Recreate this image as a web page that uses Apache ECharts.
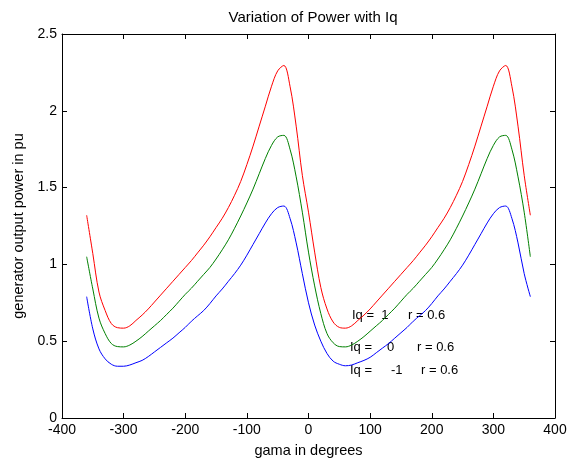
<!DOCTYPE html>
<html>
<head>
<meta charset="utf-8">
<script src="https://cdn.jsdelivr.net/npm/echarts@6/dist/echarts.min.js"></script>
<style>
  html,body{margin:0;padding:0;background:#fff;}
  #chart{width:575px;height:463px;}
</style>
</head>
<body>
<div id="chart"></div>
<script>
// gama in degrees
const gamma = [-360,-350,-340,-330,-320,-310,-300,-290,-280,-270,-260,-250,-240,-230,-220,-210,-200,-190,-180,-170,-160,-150,-140,-130,-120,-110,-100,-90,-80,-70,-60,-50,-40,-30,-20,-10,
  0,10,20,30,40,50,60,70,80,90,100,110,120,130,140,150,160,170,180,190,200,210,220,230,240,250,260,270,280,290,300,310,320,330,340,350,360]

// Iq = 1
const powerIq1 = [1.32,1.07,0.82,0.70,0.615,0.588,0.585,0.60,0.635,0.67,0.71,0.755,0.80,0.845,0.89,0.935,0.98,1.025,1.075,1.125,1.18,1.24,1.30,1.37,1.45,1.54,1.65,1.77,1.90,2.03,2.16,2.26,2.295,2.16,1.90,1.58,
  1.34,1.08,0.85,0.71,0.625,0.59,0.585,0.60,0.635,0.67,0.71,0.755,0.80,0.845,0.89,0.935,0.98,1.025,1.075,1.125,1.18,1.24,1.30,1.37,1.45,1.54,1.65,1.77,1.90,2.03,2.16,2.26,2.295,2.16,1.90,1.58,1.32]
// Iq = 0
const powerIq0 = [1.05,0.84,0.65,0.55,0.485,0.465,0.463,0.475,0.50,0.53,0.565,0.60,0.635,0.675,0.715,0.76,0.805,0.845,0.89,0.935,0.98,1.035,1.095,1.16,1.235,1.315,1.40,1.49,1.59,1.69,1.775,1.83,1.84,1.75,1.57,1.34,
  1.08,0.86,0.68,0.55,0.49,0.465,0.463,0.475,0.50,0.53,0.565,0.60,0.635,0.675,0.715,0.76,0.805,0.845,0.89,0.935,0.98,1.035,1.095,1.16,1.235,1.315,1.40,1.49,1.59,1.69,1.775,1.83,1.84,1.75,1.57,1.34,1.05]
// Iq = -1
const powerIqm1 = [0.79,0.58,0.45,0.385,0.35,0.337,0.337,0.345,0.36,0.375,0.40,0.43,0.46,0.49,0.52,0.555,0.59,0.63,0.665,0.70,0.745,0.795,0.84,0.89,0.94,0.995,1.06,1.13,1.20,1.27,1.33,1.37,1.38,1.30,1.14,0.94,
  0.75,0.605,0.50,0.42,0.37,0.35,0.34,0.345,0.36,0.375,0.395,0.425,0.455,0.485,0.52,0.555,0.59,0.63,0.665,0.70,0.745,0.795,0.84,0.89,0.94,0.995,1.06,1.13,1.20,1.27,1.33,1.37,1.38,1.30,1.14,0.94,0.79]

const font = 'Liberation Sans, Arial, sans-serif'
const pairs = (ys) => gamma.map((g, i) => [g, ys[i]])

const chart = echarts.init(document.getElementById('chart'))

const tickStyle = {show: true, inside: true, length: 5, lineStyle: {color: '#000', width: 1}}
const lineStyle = {color: '#000', width: 1}
const labelStyle = {color: '#000', fontSize: 14, fontFamily: font}
const nameStyle = {color: '#000', fontSize: 14.5, fontFamily: font}

const mkLine = (name, ys, color) => ({
  name, type: 'line', data: pairs(ys), smooth: 0.35, showSymbol: false, symbol: 'none',
  lineStyle: {color, width: 1}, itemStyle: {color}, silent: true, animation: false
})

// matlab text() notes
const note = (text, left, top) => ({type: 'text', left, top, style: {text, font: '13px ' + font, fill: '#000'}})

const option = {
  backgroundColor: '#fff',
  animation: false,
  title: {
    text: 'Variation of Power with Iq', left: 308, top: 5, textAlign: 'center',
    textStyle: {color: '#000', fontSize: 15, fontWeight: 'normal', fontFamily: font}
  },
  grid: {left: 62, right: 20, top: 34, bottom: 42},
  xAxis: [{
    type: 'value', min: -400, max: 400, interval: 100,
    name: 'gama in degrees', nameLocation: 'middle', nameGap: 25,
    nameTextStyle: nameStyle,
    axisLine: {show: true, onZero: false, lineStyle}, axisTick: tickStyle,
    axisLabel: Object.assign({margin: 5}, labelStyle), splitLine: {show: false}
  }, {
    type: 'value', position: 'top', min: -400, max: 400, interval: 100,
    axisLine: {show: true, onZero: false, lineStyle}, axisTick: tickStyle,
    axisLabel: {show: false}, splitLine: {show: false}
  }],
  yAxis: [{
    type: 'value', min: 0, max: 2.5, interval: 0.5,
    name: 'generator output power in pu', nameLocation: 'middle', nameGap: 33,
    nameTextStyle: nameStyle,
    axisLine: {show: true, onZero: false, lineStyle}, axisTick: tickStyle,
    axisLabel: Object.assign({margin: 5}, labelStyle), splitLine: {show: false}
  }, {
    type: 'value', position: 'right', min: 0, max: 2.5, interval: 0.5,
    axisLine: {show: true, onZero: false, lineStyle}, axisTick: tickStyle,
    axisLabel: {show: false}, splitLine: {show: false}
  }],
  series: [
    mkLine('Iq = 1', powerIq1, '#ff0000'),
    mkLine('Iq = 0', powerIq0, '#008000'),
    mkLine('Iq = -1', powerIqm1, '#0000ff')
  ],
  graphic: [
    note('Iq =  1', 352, 309),
    note('r = 0.6', 408, 309),
    note('Iq =', 350, 341),
    note('0', 387, 341),
    note('r = 0.6', 417, 341),
    note('Iq =', 350, 364),
    note('-1', 391, 364),
    note('r = 0.6', 421, 364)
  ]
}
chart.setOption(option)
</script>
</body>
</html>
